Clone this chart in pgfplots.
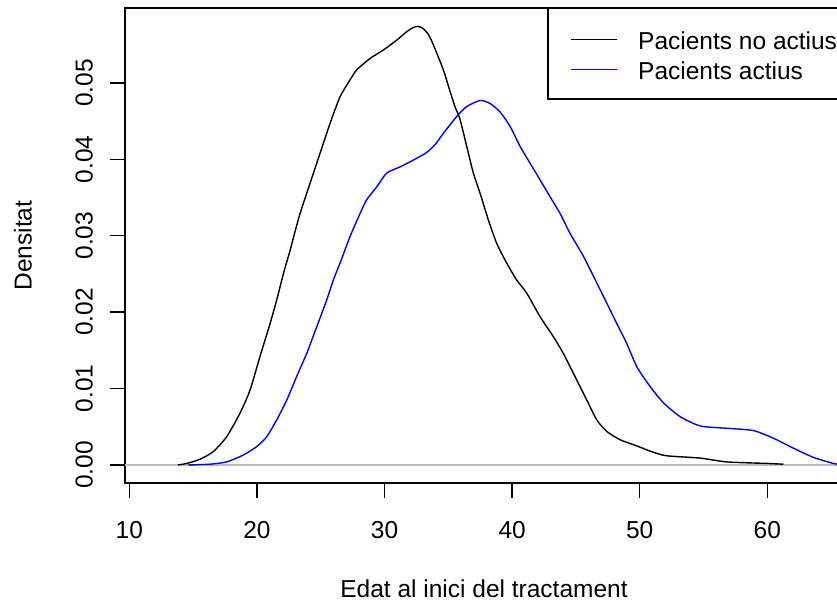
\documentclass[border=0pt]{standalone}
\usepackage{fontspec}
\setmainfont{Liberation Sans}
\usepackage{pgfplots}
\pgfplotsset{compat=1.18}
\usepackage{pgfplotstable}

\pgfplotstableread{
x y
13.80 0.0000
14.50 0.0002
15.54 0.00075
16.58 0.00175
17.63 0.0037
18.68 0.0068
19.46 0.0098
20.24 0.0142
21.03 0.0185
21.55 0.0216
22.07 0.0250
22.60 0.0281
23.38 0.0329
24.69 0.0395
25.73 0.0447
26.52 0.0482
27.30 0.0504
27.82 0.0517
28.87 0.0532
29.91 0.0543
30.96 0.0556
31.74 0.0567
32.20 0.0572
32.60 0.0574
33.04 0.0571
33.45 0.0563
33.82 0.0550
34.61 0.0517
35.13 0.0489
35.52 0.0469
35.92 0.0452
36.44 0.0417
36.96 0.0382
37.48 0.0356
38.13 0.0321
38.79 0.0290
39.58 0.0264
40.36 0.0242
41.14 0.0225
42.19 0.0194
43.23 0.0168
44.01 0.0146
44.80 0.0120
45.85 0.0085
46.63 0.0059
47.41 0.0044
48.46 0.0033
49.76 0.0025
51.00 0.0017
52.12 0.0012
54.73 0.0009
56.82 0.0004
59.96 0.0002
61.26 0.0001
}\noactius

\pgfplotstableread{
x y
14.62 0.0000
16.32 0.0001
17.63 0.0004
18.93 0.0013
19.98 0.0024
20.77 0.0037
21.55 0.0059
22.34 0.0085
23.12 0.0116
23.90 0.0146
24.69 0.0181
25.47 0.0216
26.01 0.0243
26.51 0.0264
27.30 0.0299
28.08 0.0329
28.60 0.0347
29.39 0.0364
30.17 0.0382
31.21 0.0390
32.26 0.0399
33.31 0.0409
34.00 0.0420
34.61 0.0434
35.66 0.0456
36.44 0.0469
37.49 0.0477
38.27 0.0473
39.05 0.0462
39.84 0.0443
40.62 0.0417
41.40 0.0395
42.19 0.0373
42.97 0.0351
43.76 0.0329
44.54 0.0303
45.59 0.0273
46.64 0.0238
47.41 0.0212
48.20 0.0185
48.98 0.0159
49.79 0.0128
50.84 0.0102
51.88 0.0081
53.19 0.0063
54.75 0.0051
56.84 0.0048
58.90 0.0045
60.47 0.0035
62.04 0.0022
63.60 0.0010
65.17 0.0002
66.00 0.0000
}\actius

\definecolor{rgray}{RGB}{190,190,190}

\begin{document}
\fontsize{24.5bp}{29bp}\selectfont
\begin{tikzpicture}
\begin{axis}[
  at={(0,0)}, anchor=south west,
  scale only axis, width=718bp, height=475bp,
  xmin=9.66, xmax=65.93, ymin=-0.00236, ymax=0.0598,
  axis line style={black, line width=1.5bp},
  tick pos=left, tick align=outside,
  major tick length=15bp,
  every tick/.style={black, line width=1.5bp},
  xtick={10,20,30,40,50,60},
  ytick={0,0.01,0.02,0.03,0.04,0.05},
  scaled y ticks=false,
  /pgf/number format/assume math mode=true,
  yticklabel style={/pgf/number format/.cd, fixed, fixed zerofill, precision=2, /tikz/.cd, rotate=90, anchor=south, inner sep=0pt, font=\fontsize{24.5bp}{29bp}\selectfont},
  xticklabel style={anchor=north, inner sep=0pt, font=\fontsize{24.5bp}{29bp}\selectfont},
  xticklabel shift=22.7bp,
  yticklabel shift=17bp,
  xlabel={Edat al inici del tractament},
  ylabel={Densitat},
  every axis x label/.style={at={(axis description cs:0.5,-0.2406)}, anchor=base, inner sep=0pt, font=\fontsize{24.5bp}{29bp}\selectfont},
  every axis y label/.style={at={(axis description cs:-0.1295,0.5)}, rotate=90, anchor=south, inner sep=0pt, font=\fontsize{24.5bp}{29bp}\selectfont},
  clip=true,
]
\addplot[rgray, line width=1.4bp, forget plot] coordinates {(9.66,0) (65.93,0)};
\addplot[black, line width=1.4bp, smooth, tension=0.4] table[x=x,y=y] {\noactius};
\addplot[blue, line width=1.4bp, smooth, tension=0.4] table[x=x,y=y] {\actius};
\end{axis}
% legend
\draw[black, line width=1.5bp, fill=white] (423bp,384bp) rectangle (730bp,475bp);
\draw[black, line width=1.4bp] (446bp,443.7bp) -- (492bp,443.7bp);
\draw[blue, line width=1.4bp] (446bp,413.7bp) -- (492bp,413.7bp);
\node[anchor=base west, inner sep=0pt] at (513bp,433bp) {Pacients no actius};
\node[anchor=base west, inner sep=0pt] at (513bp,403bp) {Pacients actius};
\pgfresetboundingbox
\useasboundingbox (-125bp,-120bp) rectangle (712bp,483bp);
\end{tikzpicture}
\end{document}
